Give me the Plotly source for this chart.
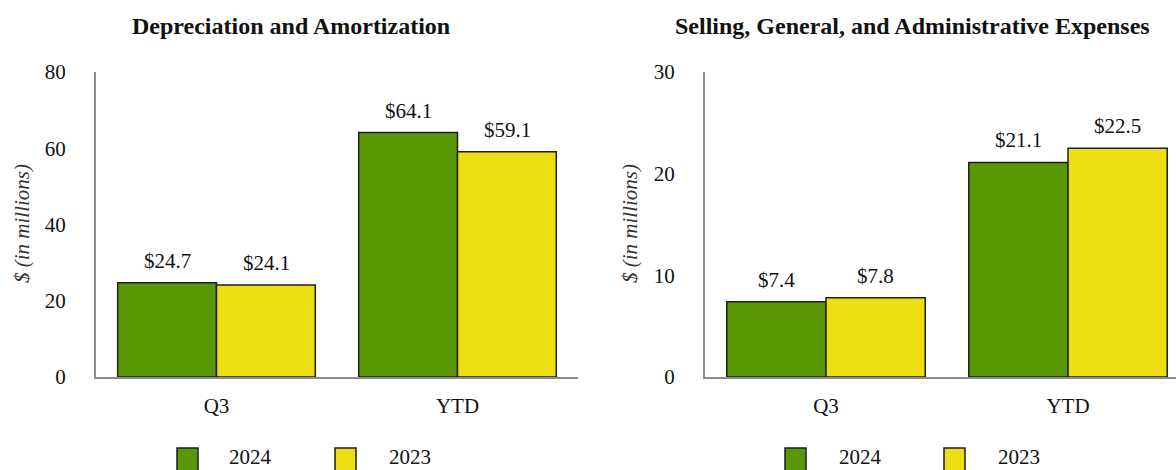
import plotly.graph_objects as go

W, H = 1176, 470

categories = ["Q3", "YTD"]
years = ["2024", "2023"]

da_2024 = [24.7, 64.1]
da_2023 = [24.1, 59.1]

sga_2024 = [7.4, 21.1]
sga_2023 = [7.8, 22.5]

titles = ["Depreciation and Amortization", "Selling, General, and Administrative Expenses"]
y_title = "$ (in millions)"

GREEN = "#5a9905"
YELLOW = "#ecde10"
EDGE = "#1e1e1e"
FONT = "Liberation Serif"
BAR_PX = 99  # width of one bar in pixels, used to centre value labels


def px_x(v):
    return v / W


def px_y(v):
    return 1 - v / H


fig = go.Figure()
annotations = []

series = [
    ("x", "y", da_2024, da_2023),
    ("x2", "y2", sga_2024, sga_2023),
]
for xa, ya, v24, v23 in series:
    for vals, color, name, shift in ((v24, GREEN, years[0], -BAR_PX / 2),
                                     (v23, YELLOW, years[1], BAR_PX / 2)):
        fig.add_trace(go.Bar(
            x=categories, y=vals, name=name, xaxis=xa, yaxis=ya,
            marker=dict(color=color, line=dict(color=EDGE, width=1.5)),
            showlegend=False,
        ))
        for c, v in zip(categories, vals):
            annotations.append(dict(
                x=c, y=v, xref=xa, yref=ya, text=f"${v:.1f}",
                showarrow=False, xanchor="center", yanchor="bottom",
                xshift=shift, yshift=8,
                font=dict(family=FONT, size=21, color="#111"),
            ))

axis_common = dict(
    showgrid=False, zeroline=False, showline=True, linecolor="#8c8c8c", linewidth=2,
    tickfont=dict(family=FONT, size=21, color="#111"), ticks="", automargin=False,
)

y_bottom = px_y(377)
y_top = px_y(72)

fig.update_layout(
    width=W, height=H,
    margin=dict(l=0, r=0, t=0, b=0, pad=0, autoexpand=False),
    font=dict(family=FONT, size=21, color="#111"),
    paper_bgcolor="white", plot_bgcolor="white",
    barmode="group", bargap=0.18, bargroupgap=0,
    showlegend=False,
    xaxis=dict(domain=[px_x(96), px_x(578)], range=[-0.5, 1.5], anchor="y",
               ticklabelstandoff=9, **axis_common),
    yaxis=dict(domain=[y_bottom, y_top], range=[0, 80], dtick=20, anchor="x",
               ticklabelstandoff=24, **axis_common),
    xaxis2=dict(domain=[px_x(705), 1.0], range=[-0.5, 1.5 - (484 - 471) / 242], anchor="y2",
                ticklabelstandoff=9, **axis_common),
    yaxis2=dict(domain=[y_bottom, y_top], range=[0, 30], dtick=10, anchor="x2",
                ticklabelstandoff=24, **axis_common),
)

# chart titles
for cx, t in ((291, titles[0]), (912, titles[1])):
    annotations.append(dict(
        x=px_x(cx), y=px_y(26), xref="paper", yref="paper", text=f"<b>{t}</b>",
        showarrow=False, xanchor="center", yanchor="middle",
        font=dict(family=FONT, size=24, color="#111"),
    ))
# y-axis titles
for cx in (22, 630):
    annotations.append(dict(
        x=px_x(cx), y=px_y(224), xref="paper", yref="paper", text=f"<i>{y_title}</i>",
        showarrow=False, textangle=-90, xanchor="center", yanchor="middle",
        font=dict(family=FONT, size=21, color="#333"),
    ))

# legends below each chart
shapes = []
legend_items = [
    (177, 251, GREEN, years[0]), (335, 410, YELLOW, years[1]),
    (785, 860, GREEN, years[0]), (944, 1019, YELLOW, years[1]),
]
for sx, tx, color, label in legend_items:
    shapes.append(dict(
        type="rect", xref="paper", yref="paper",
        x0=px_x(sx), x1=px_x(sx + 21), y0=px_y(472), y1=px_y(448),
        fillcolor=color, line=dict(color=EDGE, width=1.5),
    ))
    annotations.append(dict(
        x=px_x(tx), y=px_y(471), xref="paper", yref="paper", text=label,
        showarrow=False, xanchor="center", yanchor="bottom",
        font=dict(family=FONT, size=21, color="#111"),
    ))

fig.update_layout(annotations=annotations, shapes=shapes)

fig.write_html("out.html")
